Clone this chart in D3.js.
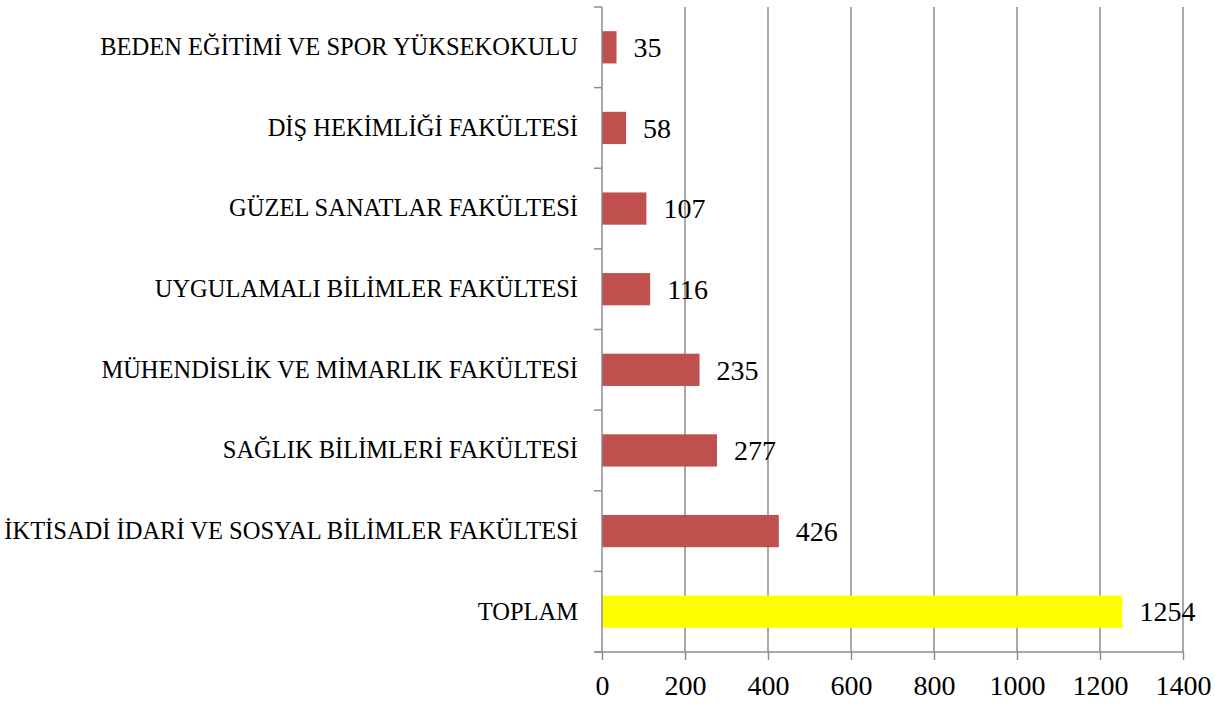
<!DOCTYPE html>
<html>
<head>
<meta charset="utf-8">
<script src="https://cdn.jsdelivr.net/npm/d3@7"></script>
<style>
  body { margin: 0; background: #fff; }
  svg text { font-family: "Liberation Serif", "DejaVu Serif", serif; fill: #000; }
</style>
</head>
<body>
<div id="chart"></div>
<script>
// chart data, top to bottom
const categories = [
	"BEDEN EĞİTİMİ VE SPOR YÜKSEKOKULU",
	"DİŞ HEKİMLİĞİ FAKÜLTESİ",
	"GÜZEL SANATLAR FAKÜLTESİ",
	"UYGULAMALI BİLİMLER FAKÜLTESİ",
	"MÜHENDİSLİK VE MİMARLIK FAKÜLTESİ",
	"SAĞLIK BİLİMLERİ FAKÜLTESİ",
	"İKTİSADİ İDARİ VE SOSYAL BİLİMLER FAKÜLTESİ",
	"TOPLAM"
];
const values = [35, 58, 107, 116, 235, 277, 426, 1254];
const xTicks = [0, 200, 400, 600, 800, 1000, 1200, 1400];

const width = 1215;
const height = 705;
const margin = { top: 7, right: 32, bottom: 53, left: 602 };

const svg = d3.select("#chart").append("svg")
	.attr("width", width)
	.attr("height", height);

const x = d3.scaleLinear()
	.domain([0, 1400])
	.range([margin.left, width - margin.right]);

const y = d3.scaleBand()
	.domain(categories)
	.range([margin.top, height - margin.bottom])
	.paddingInner(0.6)
	.paddingOuter(0.3);

const gridColor = "#8c8c8c";

// vertical gridlines
svg.append("g")
	.selectAll("line")
	.data(xTicks.slice(1))
	.join("line")
	.attr("x1", (d) => x(d))
	.attr("x2", (d) => x(d))
	.attr("y1", margin.top)
	.attr("y2", height - margin.bottom)
	.attr("stroke", gridColor)
	.attr("stroke-width", 1.5);

// bars
svg.append("g")
	.selectAll("rect")
	.data(values)
	.join("rect")
	.attr("x", x(0))
	.attr("y", (d, i) => y(categories[i]))
	.attr("width", (d) => x(d) - x(0))
	.attr("height", y.bandwidth())
	.attr("fill", (d, i) => (categories[i] === "TOPLAM" ? "#ffff00" : "#c0504d"));

// value labels
svg.append("g")
	.selectAll("text")
	.data(values)
	.join("text")
	.attr("x", (d) => x(d) + 17)
	.attr("y", (d, i) => y(categories[i]) + y.bandwidth() / 2)
	.attr("dy", "0.35em")
	.attr("font-size", 28)
	.text((d) => d);

// y axis
const yAxis = d3.axisLeft(y).tickSize(0).tickPadding(24);
const gy = svg.append("g")
	.attr("transform", `translate(${margin.left},0)`)
	.call(yAxis);
gy.select(".domain").remove();
gy.selectAll("text").attr("font-size", 24.5).attr("font-family", null);

// band boundary ticks on y axis
const bounds = d3.range(categories.length + 1).map((i) => margin.top + i * (height - margin.bottom - margin.top) / categories.length);
svg.append("g")
	.selectAll("line")
	.data(bounds)
	.join("line")
	.attr("x1", margin.left - 8)
	.attr("x2", margin.left)
	.attr("y1", (d) => d)
	.attr("y2", (d) => d)
	.attr("stroke", gridColor)
	.attr("stroke-width", 1.5);

svg.append("line")
	.attr("x1", margin.left)
	.attr("x2", margin.left)
	.attr("y1", margin.top)
	.attr("y2", height - margin.bottom)
	.attr("stroke", gridColor)
	.attr("stroke-width", 1.5);

// x axis
const xAxis = d3.axisBottom(x).tickValues(xTicks).tickSize(8).tickPadding(15).tickFormat(d3.format("d"));
const gx = svg.append("g")
	.attr("transform", `translate(0,${height - margin.bottom})`)
	.call(xAxis);
gx.select(".domain").attr("stroke", gridColor).attr("stroke-width", 1.5).attr("d", `M${x(0) - 8},0H${x(1400)}`);
gx.selectAll(".tick line").attr("stroke", gridColor).attr("stroke-width", 1.5);
gx.selectAll("text").attr("font-size", 28).attr("font-family", null);
</script>
</body>
</html>
